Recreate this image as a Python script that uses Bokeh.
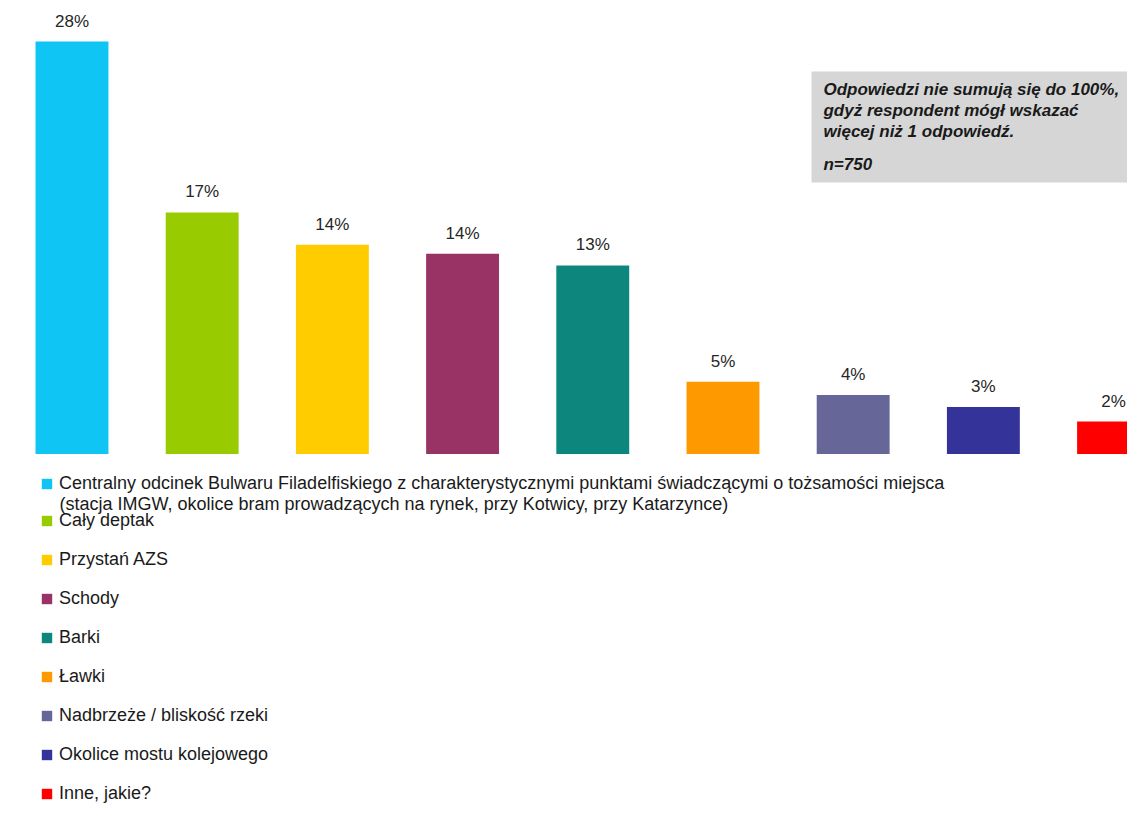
from bokeh.plotting import figure
from bokeh.models import ColumnDataSource, Range1d, Legend, LegendItem, Label, BoxAnnotation
from bokeh.embed import file_html
from bokeh.resources import INLINE
from bokeh.core.properties import value

# ---- data -------------------------------------------------------------
categories = [
    "Centralny odcinek Bulwaru Filadelfiskiego z charakterystycznymi punktami świadczącymi o tożsamości miejsca\n"
    "(stacja IMGW, okolice bram prowadzących na rynek, przy Kotwicy, przy Katarzynce)",
    "Cały deptak",
    "Przystań AZS",
    "Schody",
    "Barki",
    "Ławki",
    "Nadbrzeże / bliskość rzeki",
    "Okolice mostu kolejowego",
    "Inne, jakie?",
]
values = [28.0, 16.4, 14.2, 13.6, 12.8, 4.9, 4.0, 3.2, 2.2]
value_labels = ["28%", "17%", "14%", "14%", "13%", "5%", "4%", "3%", "2%"]
colors = ["#0fc5f4", "#99cc00", "#ffcc00", "#993366", "#0d877e",
          "#ff9900", "#666699", "#333399", "#ff0000"]
note_lines = ["Odpowiedzi nie sumują się do 100%,",
              "gdyż respondent mógł wskazać",
              "więcej niż 1 odpowiedź."]
note_n = "n=750"

# ---- figure -----------------------------------------------------------
src = ColumnDataSource(dict(
    x=list(range(len(categories))),
    value=values,
    label=value_labels,
    color=colors,
))

FONT = "Liberation Sans"

p = figure(width=1127, height=806, output_backend="svg", toolbar_location=None,
           x_range=Range1d(-0.549, 8.107), y_range=Range1d(-23.93, 30.79),
           x_axis_location=None, y_axis_location=None, title=None,
           min_border=0, min_border_left=0, min_border_right=0,
           min_border_top=0, min_border_bottom=0)
p.grid.visible = False
p.outline_line_color = None
p.background_fill_color = "white"
p.border_fill_color = "white"

bars = p.vbar(x="x", top="value", bottom=0, width=0.56, fill_color="color",
              line_color=None, source=src)

p.text(x="x", y="value", text="label", source=src, text_align="center",
       text_baseline="bottom", y_offset=-11,
       text_font=value(FONT), text_font_size="17px", text_color="#262626")

# note box
p.add_layout(BoxAnnotation(left=5.68, right=9.0, top=25.97, bottom=18.43,
                           fill_color="#d6d6d6", fill_alpha=1.0, line_color=None,
                           level="underlay"))
p.add_layout(Label(x=5.772, y=25.42, text="\n".join(note_lines),
                   text_baseline="top", text_align="left",
                   text_font=FONT, text_font_size="17px", text_line_height=1.12,
                   text_font_style="bold italic", text_color="#1a1a1a"))
p.add_layout(Label(x=5.772, y=20.33, text=note_n,
                   text_baseline="top", text_align="left",
                   text_font=FONT, text_font_size="17px",
                   text_font_style="bold italic", text_color="#1a1a1a"))

# legends
def style(leg):
    leg.padding = 0
    leg.margin = 0
    leg.border_line_color = None
    leg.background_fill_alpha = 0
    leg.glyph_width = 13
    leg.glyph_height = 13
    leg.label_standoff = 6
    leg.label_height = 21
    leg.spacing = 18
    leg.label_text_font = FONT
    leg.label_text_font_size = "18px"
    leg.label_text_color = "#1a1a1a"
    return leg

first_lines = categories[0].split("\n")
leg1 = style(Legend(items=[LegendItem(label=first_lines[0], renderers=[bars], index=0)],
                    location=(40, 312)))
leg2 = style(Legend(items=[LegendItem(label=categories[i], renderers=[bars], index=i)
                           for i in range(1, len(categories))],
                    location=(40, 2)))
p.add_layout(leg1)
p.add_layout(leg2)
# continuation line of the first (two-line) legend entry
p.add_layout(Label(x=-0.096, y=-3.36, text=first_lines[1],
                   text_baseline="middle", text_align="left",
                   text_font=FONT, text_font_size="18px", text_color="#1a1a1a"))

open("out.html", "w").write(file_html(p, INLINE))
